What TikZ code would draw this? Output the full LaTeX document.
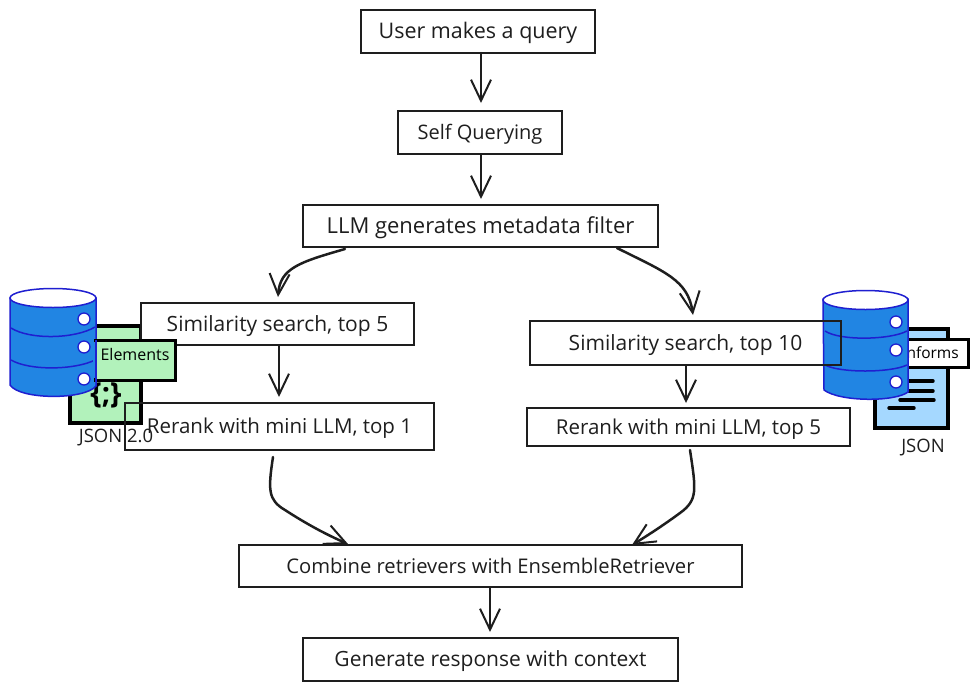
\documentclass[tikz,border=0pt]{standalone}
\usepackage{fontspec}
\setmainfont{Open Sans}
\usetikzlibrary{arrows.meta,calc}
\definecolor{ink}{HTML}{1E1E1E}
\definecolor{dbblue}{HTML}{2185E3}
\definecolor{dbline}{HTML}{1F1FD0}
\definecolor{mint}{HTML}{B2F2BB}
\definecolor{sky}{HTML}{A5D8FF}
\tikzset{
 x=1pt,y=-1pt,
 flowbox/.style={draw=ink,line width=1.8pt,inner sep=0pt,outer sep=0pt,anchor=north west,align=center,font=\fontsize{21}{24}\selectfont,text=ink,text height=19pt,text depth=5pt},
 conn/.style={draw=ink,line width=2.5pt,line cap=round,-{Straight Barb[length=21pt,width=20pt,line width=2pt]}},
 dbbody/.style={fill=dbblue,draw=dbline,line width=1.5pt},
 dbband/.style={draw=dbline,line width=1.5pt},
 dbdot/.style={circle,fill=white,draw=dbline,line width=1.3pt,minimum size=12pt,inner sep=0pt},
 iconbox/.style={draw=black,line width=3.6pt},
 iconlabel/.style={draw=black,line width=3pt,inner sep=0pt,outer sep=0pt,anchor=north west,text=black},
 caption/.style={font=\fontsize{18.5}{20}\selectfont,text=ink},
 docline/.style={draw=black,line width=3.4pt,line cap=round},
}
\newcommand{\flowbox}[6][]{\node[flowbox,#1,minimum width=#4-#3,minimum height=#6-#5] (#2) at (#3,#5)}
\begin{document}
\begin{tikzpicture}
\useasboundingbox (0,0) rectangle (977,691);
% left icon
\draw[iconbox,fill=mint] (70,326) rectangle (141,423);
\node[font=\fontsize{29}{30}\selectfont\bfseries,text=black] (braces) at (106,395) {\{;\}};
\node[caption] (jsontwo) at (116,438) {JSON 2.0};
% left database
\draw[dbbody] (10,298) -- (10,385) .. controls (20,400) and (85,400) .. (96,386) -- (96,298) -- cycle;
\draw[dbband] (11,328) .. controls (30,340) and (75,339) .. (95,327);
\draw[dbband] (11,360) .. controls (30,371) and (75,370) .. (95,360);
\draw[fill=white,draw=dbline,line width=1.5pt] (53,298) ellipse [x radius=43,y radius=9.5];
\node[dbdot] (dla) at (84,319) {};
\node[dbdot] (dlb) at (84,347) {};
\node[dbdot] (dlc) at (84,379) {};
% left similarity box and label
\flowbox[fill=white]{sima}{141}{414}{303}{345} {Similarity search, top 5};
\node[iconlabel,fill=mint,minimum width=80pt,minimum height=40pt,font=\fontsize{16}{18}\selectfont,text height=8pt,text depth=8pt] (elements) at (95,340) {Elements};
\fill[dbblue] (93,342) rectangle (96,378);
\draw[dbband] (96,340) -- (96,382);
% right icon
\draw[iconbox,fill=sky] (875,329) rectangle (948,428);
\node[iconlabel,fill=white,minimum width=75pt,minimum height=28pt,font=\fontsize{15.5}{18}\selectfont] (informs) at (893,339) {Informs};
\draw[docline] (905,381) -- (933,381);
\draw[docline] (905,391) -- (933,391);
\draw[docline] (900,400) -- (934,400);
\draw[docline] (889,408) -- (914,408);
\node[caption] (jsonone) at (923,448) {JSON};
% right database
\draw[dbbody] (823,299) -- (824,390) .. controls (840,402) and (895,402) .. (908,392) -- (908,299) -- cycle;
\draw[dbband] (825,331) .. controls (840,341) and (890,340) .. (907,331);
\draw[dbband] (825,365) .. controls (840,373) and (890,373) .. (907,365);
\draw[fill=white,draw=dbline,line width=1.5pt] (865.5,300) ellipse [x radius=42.5,y radius=9.5];
\node[dbdot] (dra) at (896,322) {};
\node[dbdot] (drb) at (896,350) {};
\node[dbdot] (drc) at (896,382) {};
% flow boxes
\flowbox[font=\fontsize{21.5}{24}\selectfont]{user}{361}{595}{10}{53} {User makes a query};
\flowbox[font=\fontsize{20}{24}\selectfont]{self}{398}{562}{111}{154} {Self Querying};
\flowbox[font=\fontsize{22}{24}\selectfont]{llm}{303}{658}{205}{247} {LLM generates metadata filter};
\flowbox{simb}{530}{841}{321}{365} {Similarity search, top 10};
\flowbox[font=\fontsize{20.5}{24}\selectfont]{rera}{125}{434}{403}{450} {Rerank with mini LLM, top 1};
\flowbox[font=\fontsize{20.5}{24}\selectfont]{rerb}{527}{850}{408}{446} {Rerank with mini LLM, top 5};
\flowbox[font=\fontsize{20.2}{24}\selectfont]{comb}{239}{742}{545}{587} {Combine retrievers with EnsembleRetriever};
\flowbox{gen}{303}{678}{638}{681} {Generate response with context};
% free ends
\coordinate (u1) at (481,53);   \coordinate (s1) at (481,103);
\coordinate (s2) at (481,155);  \coordinate (l1) at (481,199);
\coordinate (l2) at (345,249);  \coordinate (a1) at (278,297);
\coordinate (l3) at (617,248);  \coordinate (b1) at (693,315);
\coordinate (a2) at (279,346);  \coordinate (r1) at (279,397);
\coordinate (b2) at (686,366);  \coordinate (r2) at (686,403);
\coordinate (r3) at (273,457);  \coordinate (c1) at (348,544);
\coordinate (r4) at (690,450);  \coordinate (c2) at (632,545);
\coordinate (c3) at (490,588);  \coordinate (g1) at (490,632);
\draw[conn] (u1) -- (s1);
\draw[conn] (s2) -- (l1);
\draw[conn] (l2) .. controls (300,262) and (280,268) .. (a1);
\draw[conn] (l3) .. controls (665,272) and (688,280) .. (b1);
\draw[conn] (a2) -- (r1);
\draw[conn] (b2) -- (r2);
\draw[conn] (r3) .. controls (268,490) and (268,500) .. (285,510) .. controls (305,523) and (325,534) .. (c1);
\draw[conn] (r4) .. controls (696,490) and (698,500) .. (680,513) .. controls (665,524) and (650,534) .. (c2);
\draw[conn] (c3) -- (g1);
\end{tikzpicture}
\end{document}
